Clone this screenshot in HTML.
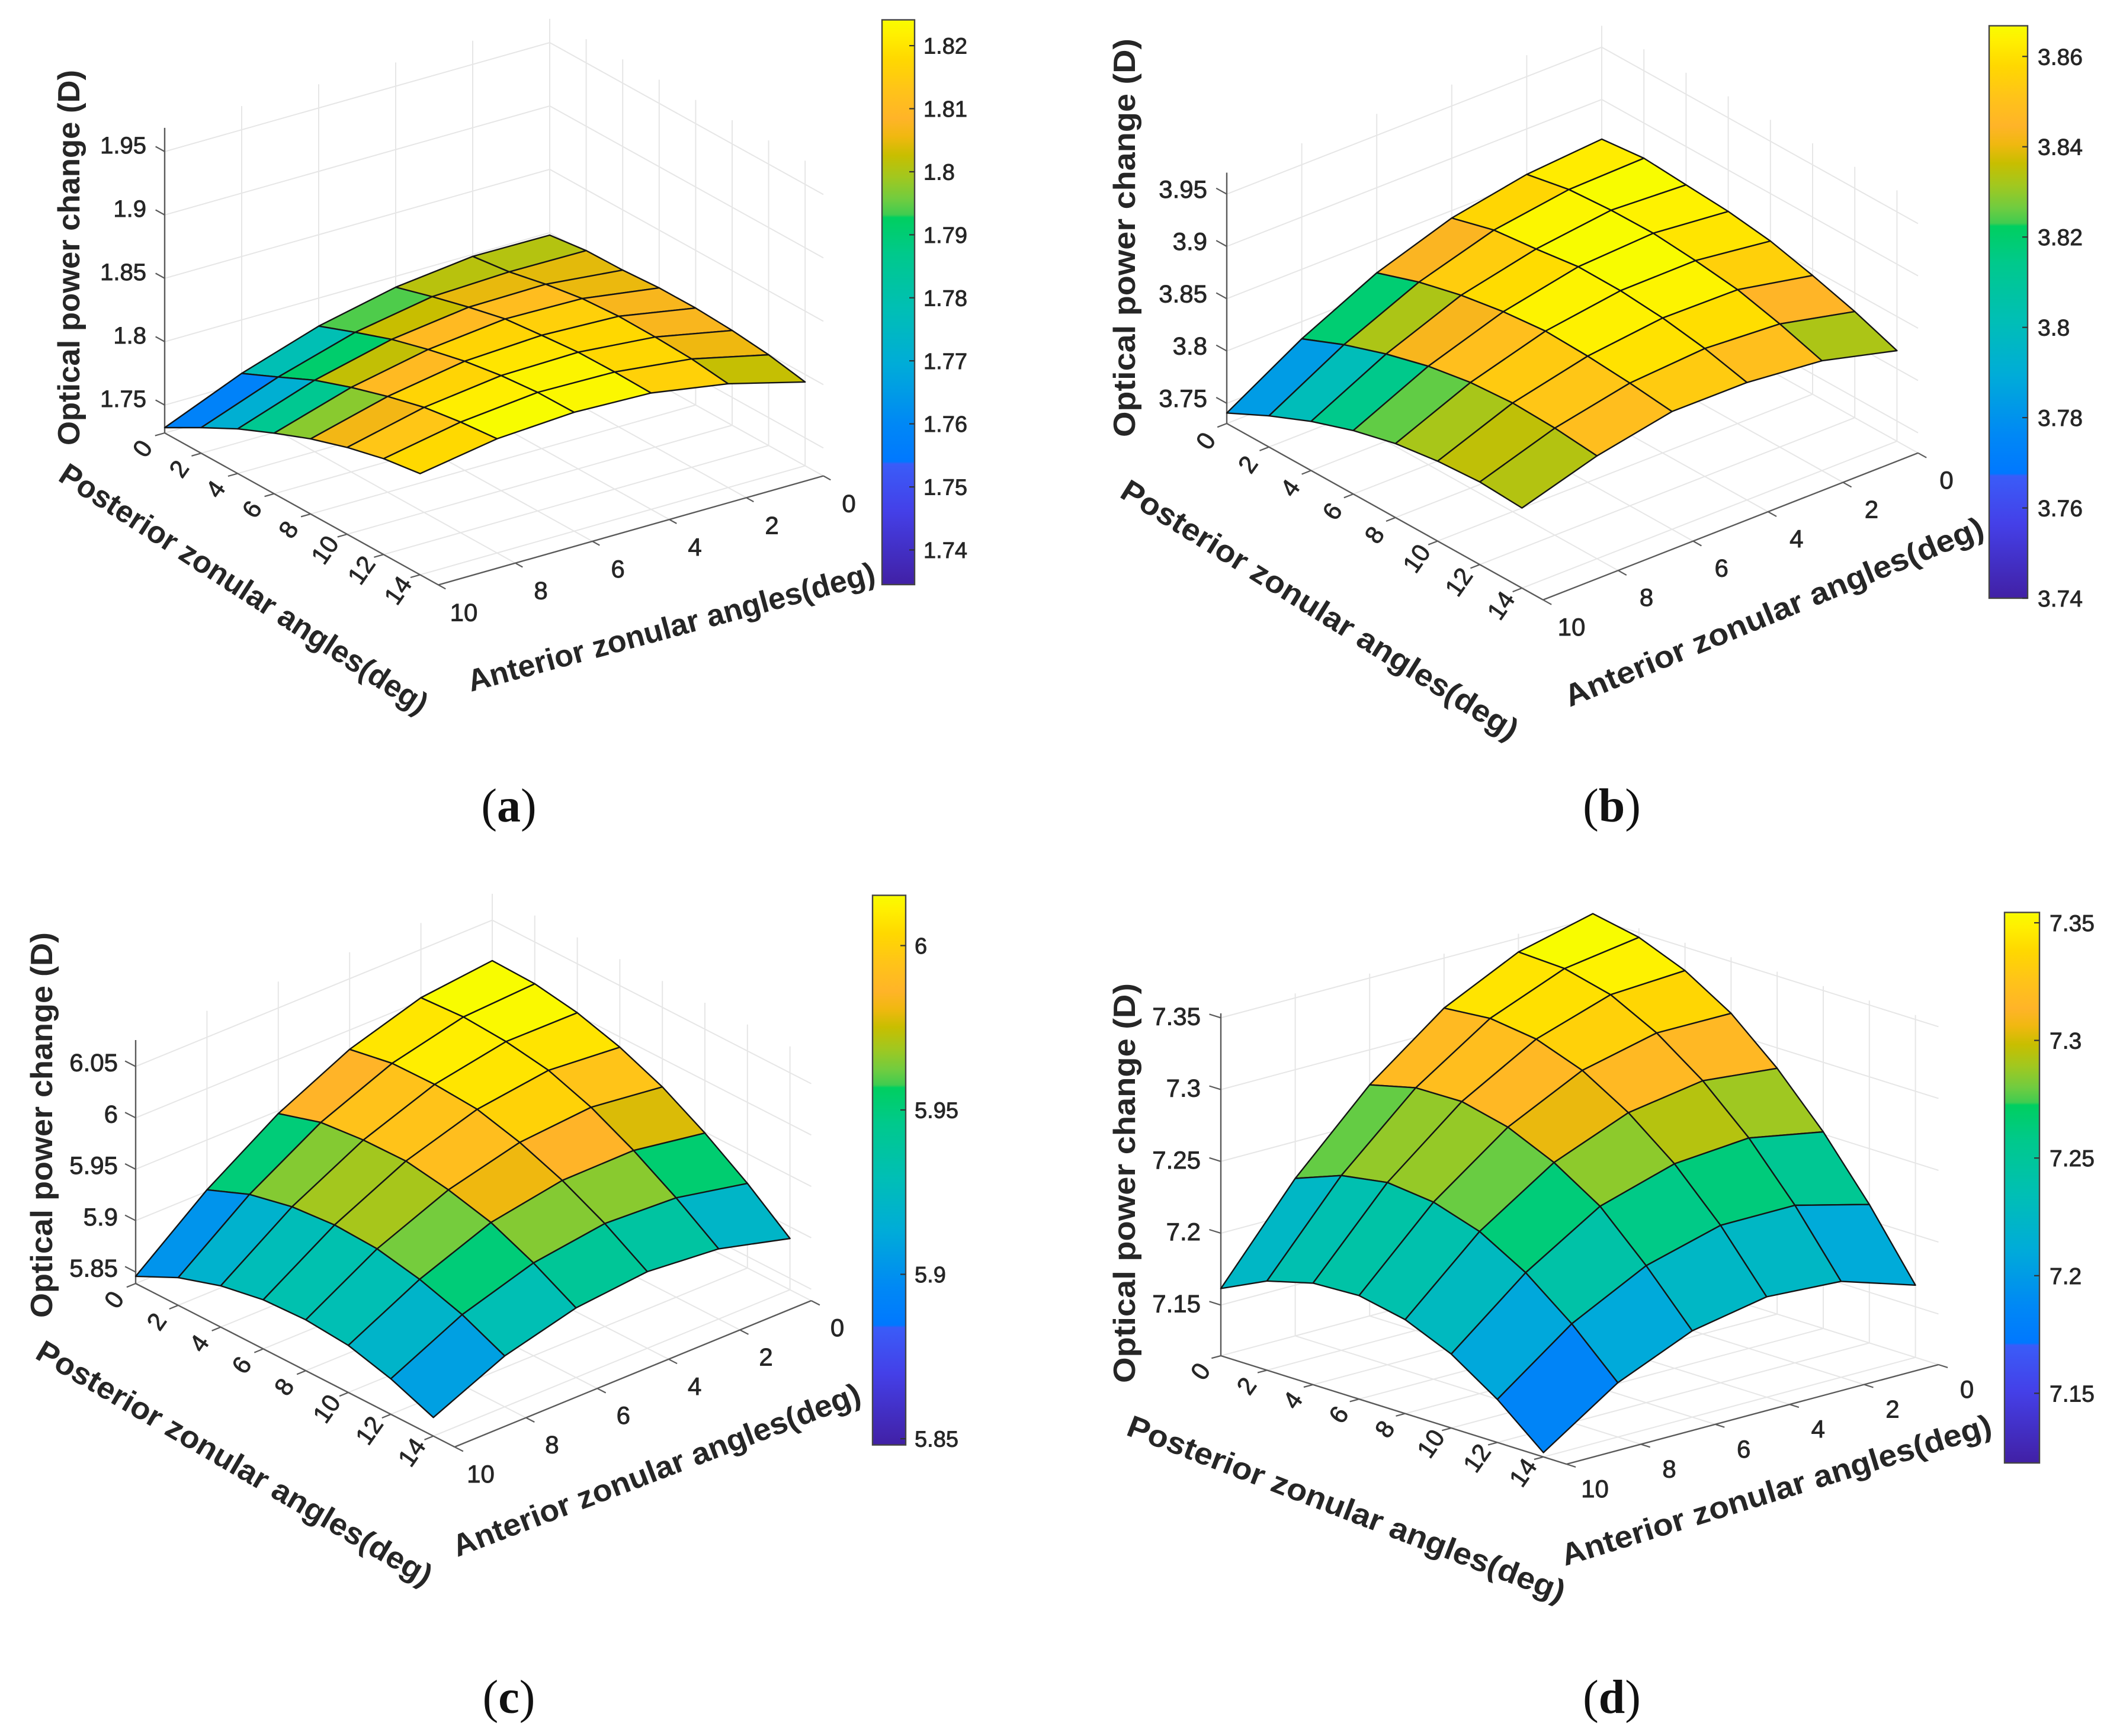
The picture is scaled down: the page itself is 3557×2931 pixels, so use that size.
<!DOCTYPE html>
<html lang="en">
<head>
<meta charset="utf-8">
<title>Optical power change surfaces</title>
<style>
html,body{margin:0;padding:0;background:#fff;}
svg{display:block;}
text{font-family:"Liberation Sans",Arial,sans-serif;fill:#262626;}
.title{font-weight:700;font-size:52px;}
.cap{font-family:"Liberation Serif","Times New Roman",serif;font-size:80px;fill:#111;}
</style>
</head>
<body>
<svg id="figure" xmlns="http://www.w3.org/2000/svg" width="3557" height="2931" viewBox="0 0 3557 2931">
  <defs id="defs"></defs>
  <rect x="0" y="0" width="3557" height="2931" fill="#ffffff"/>

  <g id="panel-a"></g>
  <g id="panel-b"></g>
  <g id="panel-c"></g>
  <g id="panel-d"></g>

  <text class="title" transform="translate(134,752) rotate(-90)" textLength="634" lengthAdjust="spacingAndGlyphs">Optical power change (D)</text>
  <text class="title" transform="translate(96,810) rotate(33)" textLength="730" lengthAdjust="spacingAndGlyphs">Posterior zonular angles(deg)</text>
  <text class="title" transform="translate(795,1168) rotate(-15.1)" textLength="710" lengthAdjust="spacingAndGlyphs">Anterior zonular angles(deg)</text>
  <text class="cap" x="859" y="1387" text-anchor="middle">(<tspan font-weight="700">a</tspan>)</text>

  <text class="title" transform="translate(1916,738) rotate(-90)" textLength="673" lengthAdjust="spacingAndGlyphs">Optical power change (D)</text>
  <text class="title" transform="translate(1888,838) rotate(32)" textLength="780" lengthAdjust="spacingAndGlyphs">Posterior zonular angles(deg)</text>
  <text class="title" transform="translate(2650,1194) rotate(-22.4)" textLength="760" lengthAdjust="spacingAndGlyphs">Anterior zonular angles(deg)</text>
  <text class="cap" x="2721" y="1387" text-anchor="middle">(<tspan font-weight="700">b</tspan>)</text>

  <text class="title" transform="translate(88,2225) rotate(-90)" textLength="651" lengthAdjust="spacingAndGlyphs">Optical power change (D)</text>
  <text class="title" transform="translate(57,2292) rotate(30.4)" textLength="765" lengthAdjust="spacingAndGlyphs">Posterior zonular angles(deg)</text>
  <text class="title" transform="translate(772,2629) rotate(-20.9)" textLength="733" lengthAdjust="spacingAndGlyphs">Anterior zonular angles(deg)</text>
  <text class="cap" x="859" y="2892" text-anchor="middle">(<tspan font-weight="700">c</tspan>)</text>

  <text class="title" transform="translate(1916,2335) rotate(-90)" textLength="675" lengthAdjust="spacingAndGlyphs">Optical power change (D)</text>
  <text class="title" transform="translate(1899,2422) rotate(21.1)" textLength="788" lengthAdjust="spacingAndGlyphs">Posterior zonular angles(deg)</text>
  <text class="title" transform="translate(2642,2644) rotate(-17.1)" textLength="757" lengthAdjust="spacingAndGlyphs">Anterior zonular angles(deg)</text>
  <text class="cap" x="2721" y="2892" text-anchor="middle">(<tspan font-weight="700">d</tspan>)</text>
</svg>

<script>
/* ---------- chart data ---------- */
const postAngles = [0, 2, 4, 6, 8, 10, 12, 14];
const anteriorAngles = [0, 2, 4, 6, 8, 10];
const postTickLabels = ['0', '2', '4', '6', '8', '10', '12', '14'];
const anteriorTickLabels = ['0', '2', '4', '6', '8', '10'];

/* each row = one anterior angle (0..10), each column = one posterior angle (0..14) */
const surfaceA = [
  [1.7981, 1.8019, 1.8025, 1.8044, 1.8045, 1.8028, 1.7996, 1.7941],
  [1.7985, 1.8023, 1.8085, 1.8132, 1.8152, 1.8148, 1.8135, 1.8099],
  [1.7914, 1.7999, 1.8076, 1.8143, 1.8174, 1.8200, 1.8204, 1.8198],
  [1.7779, 1.7890, 1.7994, 1.8074, 1.8141, 1.8188, 1.8215, 1.8218],
  [1.7578, 1.7709, 1.7844, 1.7947, 1.8035, 1.8109, 1.8153, 1.8181],
  [1.7322, 1.7482, 1.7632, 1.7758, 1.7873, 1.7965, 1.8036, 1.8078]
];
const surfaceB = [
  [3.8621, 3.8664, 3.8634, 3.8604, 3.8546, 3.8442, 3.8322, 3.8173],
  [3.8565, 3.8645, 3.8672, 3.8677, 3.8640, 3.8587, 3.8484, 3.8357],
  [3.8429, 3.8538, 3.8582, 3.8637, 3.8633, 3.8597, 3.8530, 3.8430],
  [3.8185, 3.8322, 3.8421, 3.8488, 3.8528, 3.8513, 3.8480, 3.8433],
  [3.7836, 3.8004, 3.8140, 3.8248, 3.8317, 3.8346, 3.8331, 3.8290],
  [3.7407, 3.7605, 3.7777, 3.7914, 3.8014, 3.8071, 3.8097, 3.8073]
];
const surfaceC = [
  [6.0106, 6.0093, 6.0023, 5.9900, 5.9726, 5.9489, 5.9211, 5.8887],
  [6.0030, 6.0055, 6.0027, 5.9960, 5.9812, 5.9604, 5.9355, 5.9071],
  [5.9812, 5.9888, 5.9895, 5.9865, 5.9755, 5.9597, 5.9390, 5.9134],
  [5.9472, 5.9598, 5.9639, 5.9646, 5.9578, 5.9473, 5.9291, 5.9066],
  [5.9015, 5.9182, 5.9274, 5.9309, 5.9289, 5.9204, 5.9073, 5.8883],
  [5.8458, 5.8657, 5.8790, 5.8866, 5.8883, 5.8846, 5.8733, 5.8569]
];
const surfaceD = [
  [7.3532, 7.3468, 7.3337, 7.3140, 7.2858, 7.2516, 7.2111, 7.1650],
  [7.3404, 7.3389, 7.3308, 7.3142, 7.2910, 7.2612, 7.2244, 7.1815],
  [7.3152, 7.3181, 7.3137, 7.3020, 7.2826, 7.2571, 7.2243, 7.1846],
  [7.2756, 7.2836, 7.2841, 7.2763, 7.2618, 7.2414, 7.2101, 7.1748],
  [7.2243, 7.2364, 7.2416, 7.2380, 7.2276, 7.2090, 7.1835, 7.1525],
  [7.1615, 7.1768, 7.1854, 7.1868, 7.1801, 7.1662, 7.1447, 7.1177]
];

const zTickLabelsA = ['1.75', '1.8', '1.85', '1.9', '1.95'];
const zTickLabelsB = ['3.75', '3.8', '3.85', '3.9', '3.95'];
const zTickLabelsC = ['5.85', '5.9', '5.95', '6', '6.05'];
const zTickLabelsD = ['7.15', '7.2', '7.25', '7.3', '7.35'];

const barTickLabelsA = ['1.74', '1.75', '1.76', '1.77', '1.78', '1.79', '1.8', '1.81', '1.82'];
const barTickLabelsB = ['3.74', '3.76', '3.78', '3.8', '3.82', '3.84', '3.86'];
const barTickLabelsC = ['5.85', '5.9', '5.95', '6'];
const barTickLabelsD = ['7.15', '7.2', '7.25', '7.3', '7.35'];

/* colormap: fraction along the colour bar, and colour there */
const colorFractions = [0, 0.13, 0.2135, 0.218, 0.285, 0.39, 0.487, 0.585, 0.65, 0.655, 0.682, 0.72, 0.76, 0.793, 0.825, 0.878, 0.93, 0.975, 1];
const colorValues = ['#4120a5', '#4440e8', '#3a5cf8', '#0078ff', '#0088f5', '#00acd8', '#00bfb5', '#00c98c', '#00cf60', '#40cc50', '#70cc40', '#a0c820', '#c8be00', '#f0b810', '#ffb428', '#ffc418', '#ffd800', '#fff000', '#f8fc00'];

/* ---------- panel geometry ---------- */
const panelA = {key: 'a', values: surfaceA, zLabels: zTickLabelsA, barLabels: barTickLabelsA,
  ox: 278, oy: 731, px: 30.8, py: 17.1, ax: 65, ay: -18.4, zMin: 1.728, zTop: 1.9687, zScale: 2140,
  zRight: -31, zUp: -11, zFont: 40, postOff: [-38, 26], antOff: [43, 46], cellShift: 0.03,
  barX: 1489, barW: 55, barY: 33.5, barH: 953.5, cMin: 1.7345, cMax: 1.8241, barTextX: 1559, barFont: 38};
const panelB = {key: 'b', values: surfaceB, zLabels: zTickLabelsB, barLabels: barTickLabelsB,
  ox: 2071, oy: 715, px: 35.6, py: 19.85, ax: 63.3, ay: -24.8, zMin: 3.7307, zTop: 3.9705, zScale: 1766,
  zRight: -33, zUp: -9, zFont: 42, postOff: [-36, 29], antOff: [48, 45], cellShift: 0.005,
  barX: 3358, barW: 65, barY: 43.5, barH: 966.5, cMin: 3.74, cMax: 3.8668, barTextX: 3440, barFont: 39};
const panelC = {key: 'c', values: surfaceC, zLabels: zTickLabelsC, barLabels: barTickLabelsC,
  ox: 229, oy: 2167, px: 35.9, py: 18.4, ax: 60.2, ay: -24.7, zMin: 5.8388, zTop: 6.0757, zScale: 1735,
  zRight: -30, zUp: -7, zFont: 42, postOff: [-37, 27], antOff: [44, 45], cellShift: 0.03,
  barX: 1473, barW: 56, barY: 1511.6, barH: 928, cMin: 5.8481, cMax: 6.0153, barTextX: 1544, barFont: 38};
const panelD = {key: 'd', values: surfaceD, zLabels: zTickLabelsD, barLabels: barTickLabelsD,
  ox: 2061, oy: 2289, px: 38.9, py: 12.2, ax: 62.8, ay: -16.8, zMin: 7.1147, zTop: 7.3531, zScale: 2425,
  zRight: -34, zUp: -3, zFont: 42, postOff: [-35, 26], antOff: [48, 41], cellShift: 0.012,
  barX: 3384, barW: 59, barY: 1540.5, barH: 929.5, cMin: 7.1204, cMax: 7.3544, barTextX: 3460, barFont: 39};

/* ---------- helpers ---------- */
const SVGNS = 'http://www.w3.org/2000/svg';
const POST_END = 15;
const ANT_END = 10;

function make(tag, attrs, parent) {
  const node = document.createElementNS(SVGNS, tag);
  for (const k in attrs) node.setAttribute(k, attrs[k]);
  parent.appendChild(node);
  return node;
}
function hexToRgb(h) {
  return [parseInt(h.slice(1, 3), 16), parseInt(h.slice(3, 5), 16), parseInt(h.slice(5, 7), 16)];
}
function colormap(t) {
  const f = Math.max(0, Math.min(1, t));
  for (let i = 1; i < colorFractions.length; i++) {
    if (f <= colorFractions[i]) {
      const s = (f - colorFractions[i - 1]) / (colorFractions[i] - colorFractions[i - 1]);
      const c0 = hexToRgb(colorValues[i - 1]);
      const c1 = hexToRgb(colorValues[i]);
      return 'rgb(' + c0.map((v, k) => Math.round(v + (c1[k] - v) * s)).join(',') + ')';
    }
  }
  return colorValues[colorValues.length - 1];
}
/* surface cells sit slightly warmer than the bar in the upper half of the range */
function cellFraction(t, shift) {
  const w = Math.max(0, Math.min(1, (t - 0.45) / 0.2));
  return t + shift * w;
}
function project(cfg, post, ant, z) {
  return [
    cfg.ox + post * cfg.px + (ANT_END - ant) * cfg.ax,
    cfg.oy + post * cfg.py + (ANT_END - ant) * cfg.ay - (z - cfg.zMin) * cfg.zScale
  ];
}
function barY(cfg, v) {
  return cfg.barY + cfg.barH * (1 - (v - cfg.cMin) / (cfg.cMax - cfg.cMin));
}

/* ---------- shared colour-bar gradient ---------- */
const defs = document.getElementById('defs');
const gradient = make('linearGradient', {id: 'parula-bar', x1: 0, y1: 1, x2: 0, y2: 0}, defs);
colorFractions.forEach(function (f, i) {
  make('stop', {offset: f, 'stop-color': colorValues[i]}, gradient);
});

/* ---------- drawing ---------- */
function drawPanel(cfg) {
  const root = document.getElementById('panel-' + cfg.key);
  const zTicks = cfg.zLabels.map(Number);

  function segment(points, stroke, width, parent) {
    return make('polyline', {
      points: points.map(p => p[0].toFixed(1) + ',' + p[1].toFixed(1)).join(' '),
      fill: 'none', stroke: stroke, 'stroke-width': width, 'stroke-linejoin': 'round'
    }, parent);
  }

  /* grid */
  const grid = make('g', {}, root);
  
  
  const GRID = '#e6e6e6';
  postAngles.forEach(function (p) {
    const gl = segment([project(cfg, p, ANT_END, cfg.zMin), project(cfg, p, 0, cfg.zMin), project(cfg, p, 0, cfg.zTop)], GRID, 2, grid);
    
    
  });
  anteriorAngles.forEach(function (a) {
    const gl = segment([project(cfg, POST_END, a, cfg.zMin), project(cfg, 0, a, cfg.zMin), project(cfg, 0, a, cfg.zTop)], GRID, 2, grid);
    
    
  });
  zTicks.forEach(function (z) {
    const gl = segment([project(cfg, 0, ANT_END, z), project(cfg, 0, 0, z), project(cfg, POST_END, 0, z)], GRID, 2, grid);
    
    
  });

  /* axes */
  const axes = make('g', {}, root);
  
  
  const AXIS = '#5a5a5a';
  const postAxis = segment([project(cfg, 0, ANT_END, cfg.zMin), project(cfg, POST_END, ANT_END, cfg.zMin)], AXIS, 2.4, axes);
  
  
  const antAxis = segment([project(cfg, POST_END, ANT_END, cfg.zMin), project(cfg, POST_END, 0, cfg.zMin)], AXIS, 2.4, axes);
  
  
  const zAxis = segment([project(cfg, 0, ANT_END, cfg.zMin), project(cfg, 0, ANT_END, cfg.zTop)], AXIS, 2.4, axes);
  
  

  /* posterior ticks */
  postAngles.forEach(function (p, i) {
    const s = project(cfg, p, ANT_END, cfg.zMin);
    const tick = segment([s, [s[0] - cfg.ax * 0.25, s[1] - cfg.ay * 0.25]], AXIS, 2.2, axes);
    
    
    const lx = s[0] + cfg.postOff[0], ly = s[1] + cfg.postOff[1];
    const label = make('text', {
      x: 0, y: 15, 'font-size': 42, 'text-anchor': 'middle', stroke: '#262626', 'stroke-width': 0.9,
      transform: 'translate(' + lx.toFixed(1) + ',' + ly.toFixed(1) + ') rotate(-55)'
    }, axes);
    label.textContent = postTickLabels[i];
    
    
  });

  /* anterior ticks */
  anteriorAngles.forEach(function (a, i) {
    const s = project(cfg, POST_END, a, cfg.zMin);
    const tick = segment([s, [s[0] + cfg.px * 0.4, s[1] + cfg.py * 0.4]], AXIS, 2.2, axes);
    
    
    const label = make('text', {
      x: (s[0] + cfg.antOff[0]).toFixed(1), y: (s[1] + cfg.antOff[1] + 15).toFixed(1),
      'font-size': 42, 'text-anchor': 'middle', stroke: '#262626', 'stroke-width': 0.9
    }, axes);
    label.textContent = anteriorTickLabels[i];
    
    
  });

  /* z ticks */
  zTicks.forEach(function (z, i) {
    const s = project(cfg, 0, ANT_END, z);
    const tick = segment([s, [s[0] - cfg.px * 0.5, s[1] - cfg.py * 0.5]], AXIS, 2.2, axes);
    
    
    const label = make('text', {
      x: (s[0] + cfg.zRight).toFixed(1), y: (s[1] + cfg.zUp + 0.358 * cfg.zFont).toFixed(1),
      'font-size': cfg.zFont, 'text-anchor': 'end', stroke: '#262626', 'stroke-width': 0.9
    }, axes);
    label.textContent = cfg.zLabels[i];
    
    
  });

  /* surface: each quad takes its colour from its lowest-index vertex */
  const surface = make('g', {}, root);
  
  
  for (let j = 0; j < anteriorAngles.length - 1; j++) {
    for (let i = 0; i < postAngles.length - 1; i++) {
      const corners = [
        project(cfg, postAngles[i], anteriorAngles[j], cfg.values[j][i]),
        project(cfg, postAngles[i + 1], anteriorAngles[j], cfg.values[j][i + 1]),
        project(cfg, postAngles[i + 1], anteriorAngles[j + 1], cfg.values[j + 1][i + 1]),
        project(cfg, postAngles[i], anteriorAngles[j + 1], cfg.values[j + 1][i])
      ];
      const t = (cfg.values[j][i] - cfg.cMin) / (cfg.cMax - cfg.cMin);
      const cell = make('polygon', {
        points: corners.map(p => p[0].toFixed(1) + ',' + p[1].toFixed(1)).join(' '),
        fill: colormap(cellFraction(t, cfg.cellShift)), stroke: '#141414', 'stroke-width': 2.4, 'stroke-linejoin': 'round'
      }, surface);
      
      
    }
  }

  /* colour bar */
  const bar = make('g', {}, root);
  
  
  const barRect = make('rect', {
    x: cfg.barX, y: cfg.barY, width: cfg.barW, height: cfg.barH,
    fill: 'url(#parula-bar)', stroke: '#444', 'stroke-width': 2.4
  }, bar);
  
  
  cfg.barLabels.forEach(function (txt) {
    const v = Number(txt);
    const y = barY(cfg, v);
    const tick = make('line', {
      x1: cfg.barX + cfg.barW - 9, x2: cfg.barX + cfg.barW, y1: y.toFixed(1), y2: y.toFixed(1),
      stroke: '#333', 'stroke-width': 2.2
    }, bar);
    
    
    const label = make('text', {
      x: cfg.barTextX, y: (y + 0.358 * cfg.barFont).toFixed(1),
      'font-size': cfg.barFont, stroke: '#262626', 'stroke-width': 0.9
    }, bar);
    label.textContent = txt;
    
    
  });
}

drawPanel(panelA);
drawPanel(panelB);
drawPanel(panelC);
drawPanel(panelD);
</script>
</body>
</html>
